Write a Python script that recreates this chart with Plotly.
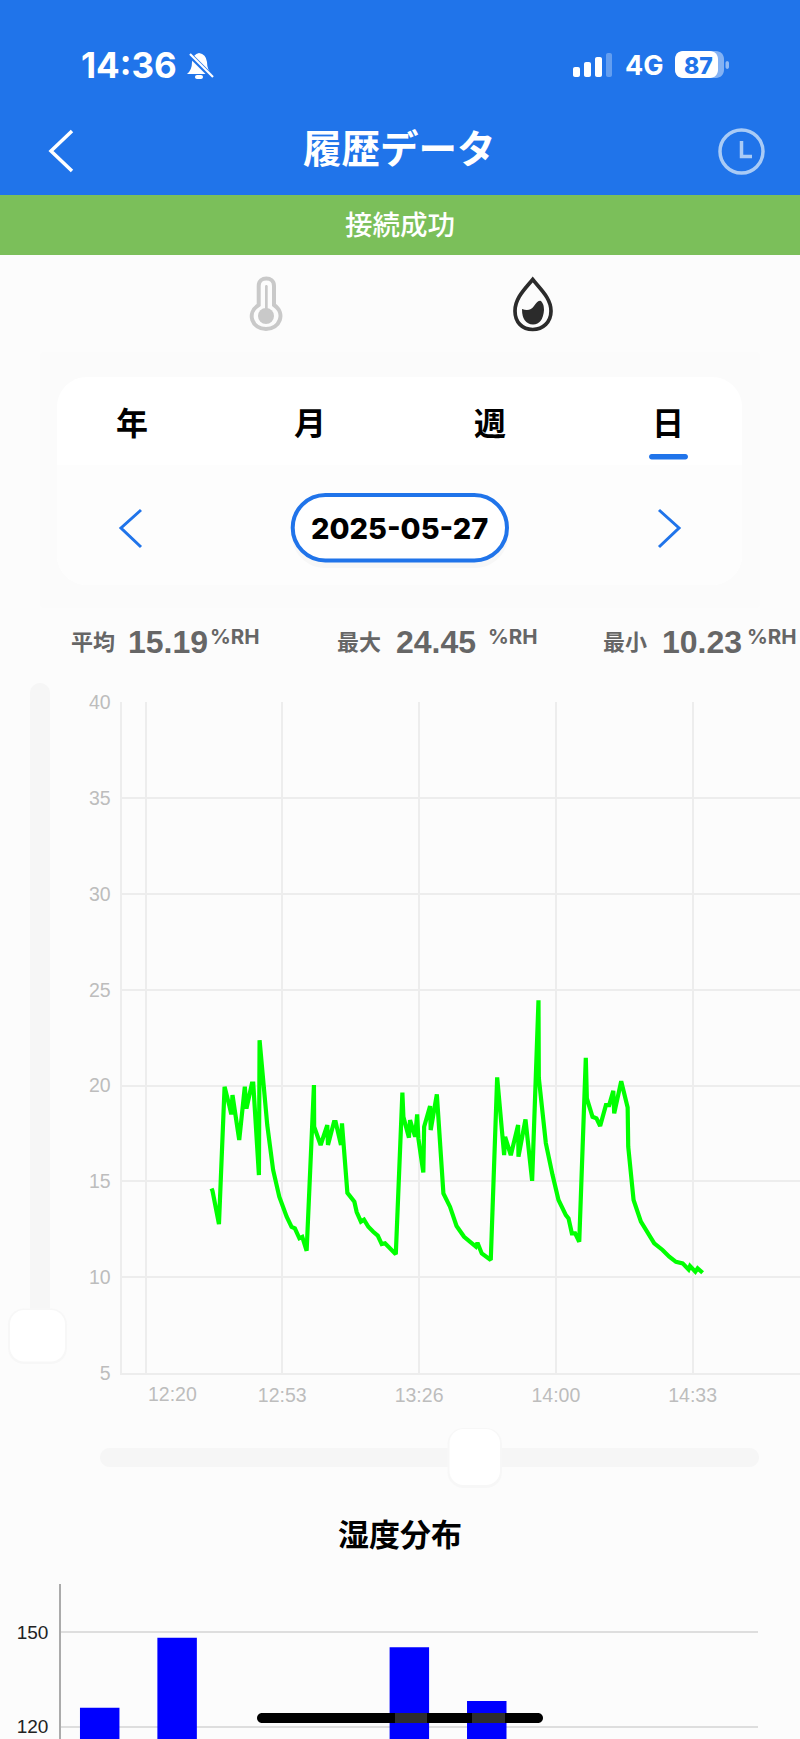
"""
Humidity history screen of the logger app, redrawn with Plotly.
"""

# =================================================================================================
#   IMPORTS
# =================================================================================================

import plotly.graph_objects as go

# =================================================================================================
#   DATA
# =================================================================================================

# Minutes after 12:00
HUMIDITY_MINUTES = [
    36.1, 36.34, 37.9, 39.27, 40.4, 40.9, 41.2, 41.8, 42.84, 44.2, 44.6, 45.93, 46.26, 47.64, 47.8,
    49.67, 51.1, 52.6, 54.4, 55.6, 56.4, 57.5, 58.2, 59.27, 61.05, 61.1, 62.68, 64.3, 64.47, 65.93,
    66.34, 67.64, 67.88, 69.2, 70.9, 71.46, 72.5, 73.25, 74.3, 75.5, 76.6, 77.56, 78.37, 81.0, 82.6,
    82.85, 84.2, 84.47, 85.7, 86.2, 86.5, 87.7, 87.9, 89.35, 89.5, 91.0, 92.6, 94.2, 95.8, 97.64,
    99.67, 100.5, 100.9, 101.95, 104.14, 105.7, 107.4, 107.64, 109.02, 110.8, 110.89, 112.6, 114.22,
    115.77, 115.85, 117.56, 119.2, 120.65, 122.44, 123.09, 123.9, 124.7, 125.7, 127.3, 127.56,
    128.94, 129.9, 130.8, 132.2, 133.0, 134.0, 134.22, 135.93, 137.5, 137.64, 138.94, 140.73,
    142.76, 143.98, 146.0, 147.64, 149.27, 150.9, 152.35, 152.7, 154.0, 154.55, 155.77,
]
HUMIDITY_VALUES = [
    14.63, 14.5, 12.77, 19.94, 18.98, 18.5, 19.5, 18.55, 17.16, 19.94, 18.8, 20.1, 20.1, 15.33, 22.37,
    17.94, 15.6, 14.2, 13.16, 12.63, 12.55, 12.03, 12.1, 11.38, 20.03, 17.85, 16.9, 17.94, 16.9, 18.1,
    18.1, 16.9, 18.03, 14.4, 13.94, 13.4, 12.9, 13.0, 12.63, 12.37, 12.17, 11.73, 11.77, 11.2, 19.63,
    18.37, 17.28, 18.2, 17.33, 18.5, 17.24, 15.47, 17.85, 18.93, 17.68, 19.54, 14.37, 13.68, 12.67,
    12.11, 11.77, 11.6, 11.8, 11.24, 10.9, 20.43, 16.37, 17.33, 16.37, 17.94, 16.29, 18.23, 15.03,
    24.45, 20.4, 17.0, 15.33, 14.03, 13.24, 13.07, 12.29, 12.29, 11.85, 21.45, 19.33, 18.37, 18.29,
    17.89, 18.98, 18.98, 19.73, 18.55, 20.23, 18.86, 16.81, 14.03, 12.9, 12.2, 11.77, 11.42, 11.07,
    10.8, 10.72, 10.4, 10.58, 10.29, 10.46, 10.23,
]
TIME_TICKS = [20, 53.33, 86.67, 120, 153.33]
TIME_LABELS = ["", "12:53", "13:26", "14:00", "14:33"]
FIRST_TIME_LABEL = "12:20"
HUMIDITY_TICKS = [5, 10, 15, 20, 25, 30, 35, 40]

# Only four bars of the distribution rise into the visible part of the screen
DISTRIBUTION_BINS = [1, 2, 3, 4, 5, 6, 7, 8, 9]
DISTRIBUTION_COUNTS = [126, 148.2, None, None, 145.2, 128.2, None, None, None]
COUNT_TICKS = [120, 150]

STATS = [
    ("平均", "15.19", 93, 127, 209),
    ("最大", "24.45", 359, 395, 487),
    ("最小", "10.23", 625, 661, 746),
]
TABS = [("年", 131.6), ("月", 310), ("週", 490), ("日", 668)]

# =================================================================================================
#   CONSTANTS
# =================================================================================================

WIDTH = 800
HEIGHT = 1739

BLUE = "#2074EA"
GREEN = "#7BBF5A"
PAGE = "#FCFCFC"
GRID = "#EDEDED"
LABEL_GREY = "#BDBDBD"
STAT_GREY = "#666666"
JP_FONT = "Noto Sans CJK JP"
NUM_FONT = "Inter"
KAPPA = 0.55

# =================================================================================================
#   FUNCTIONS
# =================================================================================================


def px_x(x):
    return x / WIDTH


def px_y(y):
    return 1 - y / HEIGHT


def path(*commands):
    # Commands are (letter, x, y, x, y...) in screen pixels
    parts = []
    for command in commands:
        letter, values = command[0], command[1:]
        pairs = [
            f"{px_x(values[i]):.5f},{px_y(values[i + 1]):.5f}" for i in range(0, len(values), 2)
        ]
        parts.append(letter + " ".join(pairs))
    return " ".join(parts)


def rounded(x0, y0, x1, y1, r):
    k = r * KAPPA
    return path(
        ("M", x0 + r, y0),
        ("L", x1 - r, y0),
        ("C", x1 - r + k, y0, x1, y0 + r - k, x1, y0 + r),
        ("L", x1, y1 - r),
        ("C", x1, y1 - r + k, x1 - r + k, y1, x1 - r, y1),
        ("L", x0 + r, y1),
        ("C", x0 + r - k, y1, x0, y1 - r + k, x0, y1 - r),
        ("L", x0, y0 + r),
        ("C", x0, y0 + r - k, x0 + r - k, y0, x0 + r, y0),
    ) + " Z"


def add_box(fig, x0, y0, x1, y1, r=0, fill=None, line=None, width=0, layer="below"):
    fig.add_shape(
        type="path",
        xref="paper",
        yref="paper",
        path=rounded(x0, y0, x1, y1, r),
        fillcolor=fill or "rgba(0,0,0,0)",
        line=dict(color=line or "rgba(0,0,0,0)", width=width),
        layer=layer,
    )


def add_outline(fig, commands, fill, color=None, width=0):
    fig.add_shape(
        type="path",
        xref="paper",
        yref="paper",
        path=path(*commands) + " Z",
        fillcolor=fill,
        line=dict(color=color or "rgba(0,0,0,0)", width=width),
    )


def add_stroke(fig, points, color, width, layer="above"):
    commands = [("M", *points[0])] + [("L", *p) for p in points[1:]]
    fig.add_shape(
        type="path",
        xref="paper",
        yref="paper",
        path=path(*commands),
        line=dict(color=color, width=width),
        layer=layer,
    )


def add_text(fig, text, x, y, size, color, family=JP_FONT, weight=700, anchor="center"):
    fig.add_annotation(
        text=text,
        xref="paper",
        yref="paper",
        x=px_x(x),
        y=px_y(y),
        xanchor=anchor,
        yanchor="middle",
        showarrow=False,
        borderpad=0,
        font=dict(family=family, size=size, color=color, weight=weight),
    )


def add_header(fig):
    add_box(fig, 0, 0, 800, 195, fill=BLUE)
    add_box(fig, 0, 195, 800, 255, fill=GREEN)

    # Status bar
    add_text(fig, "14:36", 129, 65, 35, "white", NUM_FONT)
    add_outline(
        fig,
        [
            ("M", 187, 74),
            ("Q", 192, 70, 192, 62),
            ("Q", 193, 54, 199, 53),
            ("Q", 206, 54, 207, 62),
            ("Q", 207, 70, 212, 74),
        ],
        "white",
    )
    add_box(fig, 195, 75, 203, 79, r=2, fill="white", layer="above")
    add_stroke(fig, [(188, 53), (213, 78)], BLUE, 5)
    add_stroke(fig, [(190, 54), (213, 77)], "white", 2.2)

    add_box(fig, 573, 67, 580, 77, r=2, fill="white", layer="above")
    add_box(fig, 584, 62, 591, 77, r=2, fill="white", layer="above")
    add_box(fig, 595, 57, 602, 77, r=2, fill="white", layer="above")
    add_box(fig, 606, 53, 612, 77, r=2, fill="rgba(255,255,255,0.3)", layer="above")
    add_text(fig, "4G", 644, 65.5, 27, "white", NUM_FONT)
    add_box(fig, 675, 51, 724, 78, r=8, fill="rgba(255,255,255,0.45)", layer="above")
    add_box(fig, 675, 51, 718, 78, r=8, fill="white", layer="above")
    add_box(fig, 725.5, 61, 729, 69, r=2, fill="rgba(255,255,255,0.5)", layer="above")
    add_text(fig, "87", 698, 65.5, 23, BLUE, NUM_FONT, 800)

    # Title row
    add_stroke(fig, [(72, 131), (51, 151), (72, 171)], "white", 3.5)
    add_text(fig, "履歴データ", 399, 146, 38.5, "white")
    fig.add_shape(
        type="circle",
        xref="paper",
        yref="paper",
        x0=px_x(720),
        x1=px_x(763),
        y0=px_y(130),
        y1=px_y(173),
        line=dict(color="#A9CBF6", width=3.5),
    )
    add_stroke(fig, [(741.5, 141), (741.5, 156.5), (752, 156.5)], "#A9CBF6", 3.5)

    add_text(fig, "接続成功", 399.5, 223, 27.5, "white", weight=500)


def add_type_icons(fig):
    # Thermometer, not selected
    grey = "#C9C9C9"
    add_outline(
        fig,
        [
            ("M", 258.7, 286),
            ("C", 258.7, 276, 274, 276, 274, 286),
            ("L", 274, 305),
            ("C", 286, 313, 280, 329, 266, 329),
            ("C", 252, 329, 246, 313, 258.7, 305),
        ],
        PAGE,
        grey,
        4,
    )
    add_box(fig, 265, 285, 267.7, 312, r=1.3, fill=grey, layer="above")
    fig.add_shape(
        type="circle",
        xref="paper",
        yref="paper",
        x0=px_x(258),
        x1=px_x(274),
        y0=px_y(308),
        y1=px_y(324),
        fillcolor=grey,
        line=dict(width=0),
    )

    # Water drop, selected
    dark = "#2B2B2B"
    add_outline(
        fig,
        [
            ("M", 532.7, 279.5),
            ("C", 540, 289, 551, 298, 551, 311),
            ("C", 551, 322, 543, 329.5, 532.7, 329.5),
            ("C", 522, 329.5, 515, 322, 515, 311),
            ("C", 515, 298, 525, 289, 532.7, 279.5),
        ],
        PAGE,
        dark,
        3.7,
    )
    add_outline(
        fig,
        [
            ("M", 522, 309),
            ("Q", 530, 312, 534, 306),
            ("Q", 538, 300, 541, 301),
            ("Q", 544, 304, 544, 310),
            ("Q", 543, 324, 533, 324.5),
            ("Q", 522, 324, 522, 309),
        ],
        dark,
    )


def add_period_card(fig):
    add_box(fig, 40, 352, 760, 608, r=4, fill="#FBFBFB")
    add_box(fig, 57, 377, 742, 585, r=30, fill="#FFFFFF")
    # Lower half of the card is a touch greyer, with a straight upper edge
    add_box(fig, 57, 465, 742, 550, fill="#FDFDFD")
    add_box(fig, 57, 500, 742, 585, r=30, fill="#FDFDFD")

    for label, x in TABS:
        add_text(fig, label, x, 421, 32, "black")
    add_box(fig, 649, 454, 688, 459.5, r=2.7, fill=BLUE)

    add_stroke(fig, [(141, 510), (121, 528), (141, 547)], BLUE, 3)
    add_stroke(fig, [(659, 510), (679, 528), (659, 547)], BLUE, 3)

    add_box(fig, 292, 500, 508, 568, r=33, fill="#F7F7F7")
    add_box(fig, 292.7, 495, 507, 560.5, r=32.7, fill="white", line=BLUE, width=4)
    add_text(fig, "2025-05-27", 399.5, 528, 29, "black", NUM_FONT, 800)

    for label, value, label_x, value_x, unit_x in STATS:
        add_text(fig, label, label_x, 640, 22, STAT_GREY)
        add_text(fig, value, value_x, 642, 32, STAT_GREY, "Liberation Sans", 700, "left")
        add_text(fig, "%RH", unit_x, 637, 20.5, STAT_GREY, NUM_FONT, 700, "left")


def add_sliders(fig):
    # Vertical slider beside the chart
    add_box(fig, 30, 683, 50, 1340, r=10, fill="#F6F6F6")
    add_box(fig, 8, 1308.5, 67, 1364, r=16, fill="#F7F7F7")
    add_box(fig, 10, 1310, 65, 1361.5, r=14, fill="white")

    # Horizontal slider below the chart
    add_box(fig, 100, 1448, 759, 1467, r=9.5, fill="#F6F6F6")
    add_box(fig, 447.5, 1428, 502, 1488, r=16, fill="#F7F7F7")
    add_box(fig, 449.5, 1429, 500, 1485, r=14, fill="white")


def add_home_indicator(fig):
    add_box(fig, 257, 1713, 543, 1723, r=5, fill="black", layer="above")
    add_box(fig, 395, 1713, 427, 1723, fill="#2E2E2E", layer="above")
    add_box(fig, 472, 1713, 505, 1723, fill="#2E2E2E", layer="above")


def build_figure():
    fig = go.Figure()

    fig.add_trace(
        go.Scatter(
            x=HUMIDITY_MINUTES,
            y=HUMIDITY_VALUES,
            mode="lines",
            line=dict(color="#00FF00", width=4.2),
            showlegend=False,
            xaxis="x",
            yaxis="y",
        )
    )
    fig.add_trace(
        go.Bar(
            x=DISTRIBUTION_BINS,
            y=DISTRIBUTION_COUNTS,
            marker=dict(color="#0000FF", line=dict(width=0)),
            width=0.51,
            showlegend=False,
            xaxis="x2",
            yaxis="y2",
        )
    )

    fig.update_layout(
        width=WIDTH,
        height=HEIGHT,
        autosize=False,
        margin=dict(l=0, r=0, t=0, b=0),
        paper_bgcolor=PAGE,
        plot_bgcolor="rgba(0,0,0,0)",
        xaxis=dict(
            domain=[px_x(121.5), 1],
            anchor="y",
            automargin=False,
            range=[14.15, 179.5],
            tickmode="array",
            tickvals=TIME_TICKS,
            ticktext=TIME_LABELS,
            ticks="",
            showgrid=True,
            gridcolor=GRID,
            gridwidth=2,
            zeroline=False,
            showline=True,
            linecolor=GRID,
            linewidth=2,
            ticklabelstandoff=4,
            tickfont=dict(family="Liberation Sans", size=19.5, color=LABEL_GREY),
        ),
        yaxis=dict(
            domain=[px_y(1373), px_y(702.4)],
            anchor="x",
            automargin=False,
            range=[5, 40],
            tickmode="array",
            tickvals=HUMIDITY_TICKS,
            ticks="",
            showgrid=True,
            gridcolor=GRID,
            gridwidth=2,
            zeroline=False,
            showline=True,
            linecolor=GRID,
            linewidth=2,
            ticklabelstandoff=5,
            tickfont=dict(family="Liberation Sans", size=19.5, color=LABEL_GREY),
        ),
        xaxis2=dict(
            domain=[px_x(61), px_x(757.7)],
            anchor="y2",
            automargin=False,
            range=[0.5, 9.5],
            visible=False,
        ),
        yaxis2=dict(
            domain=[0, px_y(1584)],
            anchor="x2",
            automargin=False,
            range=[116.1, 165.3],
            tickmode="array",
            tickvals=COUNT_TICKS,
            ticks="",
            showgrid=True,
            gridcolor="#DEDEDE",
            gridwidth=2,
            zeroline=False,
            showline=True,
            linecolor="#ABABAB",
            linewidth=1.5,
            ticklabelstandoff=7,
            tickfont=dict(family="Liberation Sans", size=19, color="#222222"),
        ),
    )

    add_sliders(fig)
    add_header(fig)
    add_type_icons(fig)
    add_period_card(fig)
    add_home_indicator(fig)

    add_text(fig, FIRST_TIME_LABEL, 146.5, 1394, 19.5, LABEL_GREY, "Liberation Sans", 400, "left")
    add_text(fig, "湿度分布", 399.5, 1532, 31, "black")

    return fig


# =================================================================================================
#   MAIN
# =================================================================================================

if __name__ == "__main__":
    # The default page keeps a margin round the body, the screen has none
    build_figure().write_html(
        "out.html",
        config={"displayModeBar": False},
        post_script="document.body.style.margin = '0';",
    )
